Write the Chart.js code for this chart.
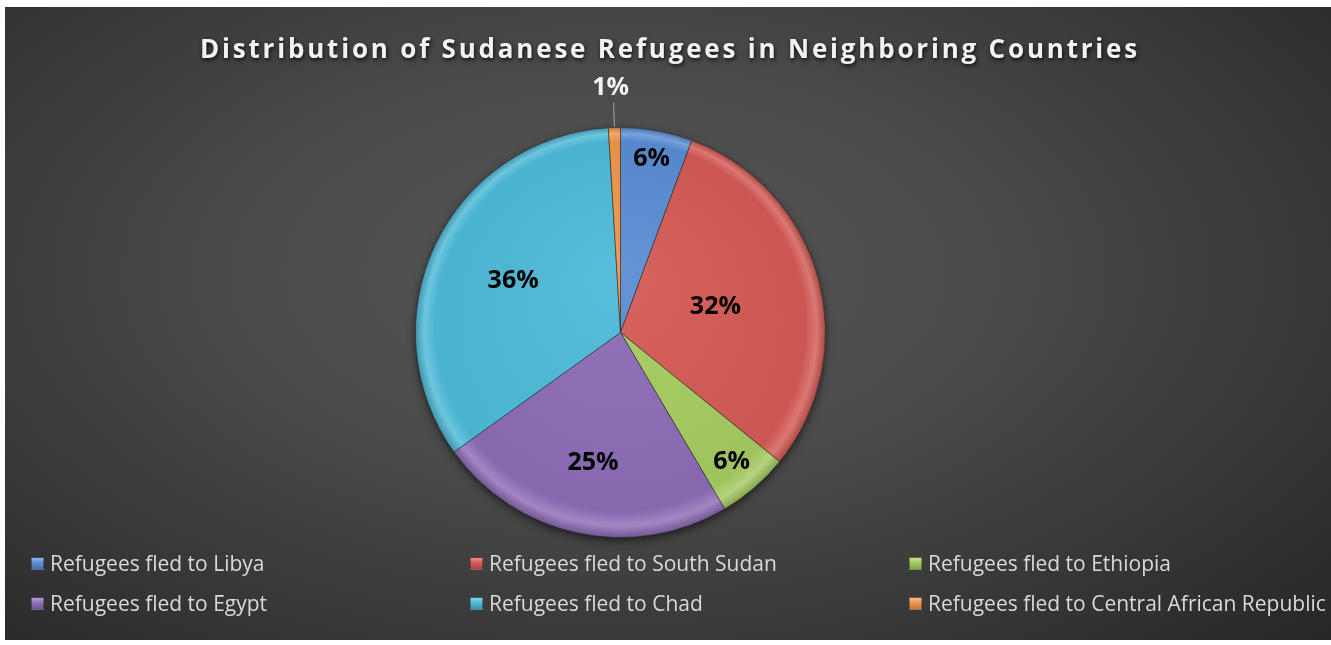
<!DOCTYPE html>
<html>
<head>
<meta charset="utf-8">
<script src="https://cdn.jsdelivr.net/npm/chart.js@4/dist/chart.umd.min.js"></script>
<style>
  html, body { margin: 0; padding: 0; background: #fff; }
  body { width: 1331px; height: 645px; position: relative; overflow: hidden; }
  #box {
    position: absolute; left: 5px; top: 7px; width: 1326px; height: 633px;
    background: radial-gradient(ellipse 75% 85% at 46% 42%, #585858 0%, #494949 40%, #2f2f2f 85%, #262626 100%);
  }
  #wrap { position: absolute; left: 0; top: 0; width: 1326px; height: 633px; }
  .leg {
    position: absolute; font-family: "Open Sans", sans-serif; font-size: 21px;
    color: #d9d9d9; white-space: nowrap; line-height: 24px; display: flex; align-items: center;
  }
  .leg i {
    display: inline-block; width: 13px; height: 13px; margin-right: 6px;
    border: 1px solid rgba(0,0,0,0.35); box-sizing: border-box;
  }
</style>
</head>
<body>
<div id="box">
  <div id="wrap"><canvas id="chart"></canvas></div>
  <div id="legend"></div>
</div>
<script>
// ── Data ─────────────────────────────────────────────────────────
const chartTitle = 'Distribution of Sudanese Refugees in Neighboring Countries';
const categories = [
  'Refugees fled to Libya',
  'Refugees fled to South Sudan',
  'Refugees fled to Ethiopia',
  'Refugees fled to Egypt',
  'Refugees fled to Chad',
  'Refugees fled to Central African Republic',
];
const shares = [6, 32, 6, 25, 36, 1];
const sliceColors = ['#5a8dd3', '#d35a55', '#a6cb60', '#8d6cb6', '#4dbad7', '#f0964b'];

// label distance from centre as a fraction of the radius (0 = outside with leader line)
const labelRadius = [0.86, 0.48, 0.83, 0.65, 0.58, 0];

// ── Colour helpers ───────────────────────────────────────────────
function shade(hex, amt) {
  const n = parseInt(hex.slice(1), 16);
  let r = (n >> 16) & 255, g = (n >> 8) & 255, b = n & 255;
  const f = (c) => Math.max(0, Math.min(255, Math.round(amt >= 0 ? c + (255 - c) * amt : c * (1 + amt))));
  return `rgb(${f(r)},${f(g)},${f(b)})`;
}

function sliceFill(ctx) {
  const chart = ctx.chart;
  const area = chart.chartArea;
  const base = sliceColors[ctx.dataIndex];
  if (!area) return base;
  const cx = (area.left + area.right) / 2;
  const cy = (area.top + area.bottom) / 2;
  const r = Math.min(area.right - area.left, area.bottom - area.top) / 2;
  const g = chart.ctx.createRadialGradient(cx, cy - r * 0.3, 0, cx, cy, r);
  g.addColorStop(0, shade(base, 0.06));
  g.addColorStop(0.9, shade(base, -0.04));
  g.addColorStop(0.955, shade(base, 0.18));
  g.addColorStop(1, shade(base, -0.2));
  return g;
}

// ── Plugins ──────────────────────────────────────────────────────
const titlePlugin = {
  id: 'boxTitle',
  afterDraw(chart) {
    const ctx = chart.ctx;
    ctx.save();
    ctx.font = 'bold 26px "Open Sans", sans-serif';
    ctx.letterSpacing = '2.8px';
    ctx.textAlign = 'center';
    ctx.textBaseline = 'alphabetic';
    ctx.shadowColor = 'rgba(0,0,0,0.8)';
    ctx.shadowBlur = 4;
    ctx.shadowOffsetX = 1;
    ctx.shadowOffsetY = 2;
    ctx.fillStyle = '#f2f2f2';
    ctx.fillText(chartTitle, chart.width / 2 + 2, 51);
    ctx.restore();
  },
};

const shadowPlugin = {
  id: 'pieShadow',
  beforeDatasetsDraw(chart) {
    const arc = chart.getDatasetMeta(0).data[0];
    if (!arc) return;
    const { x, y, outerRadius } = arc.getProps(['x', 'y', 'outerRadius'], true);
    const ctx = chart.ctx;
    ctx.save();
    ctx.shadowColor = 'rgba(0,0,0,0.7)';
    ctx.shadowBlur = 10;
    ctx.shadowOffsetY = 3;
    ctx.fillStyle = '#333';
    ctx.beginPath();
    ctx.arc(x, y, outerRadius - 1, 0, Math.PI * 2);
    ctx.fill();
    ctx.restore();
  },
};

const labelPlugin = {
  id: 'sliceLabels',
  afterDatasetsDraw(chart) {
    const ctx = chart.ctx;
    const meta = chart.getDatasetMeta(0);
    ctx.save();
    ctx.font = 'bold 25px "Open Sans", sans-serif';
    ctx.textAlign = 'center';
    ctx.textBaseline = 'middle';
    meta.data.forEach((arc, i) => {
      const p = arc.getProps(['x', 'y', 'startAngle', 'endAngle', 'outerRadius'], true);
      const mid = (p.startAngle + p.endAngle) / 2;
      const text = shares[i] + '%';
      const frac = labelRadius[i];
      if (frac > 0) {
        const d = p.outerRadius * frac;
        ctx.fillStyle = '#000';
        ctx.fillText(text, p.x + Math.cos(mid) * d, p.y + Math.sin(mid) * d);
      } else {
        // outside label with a leader line
        const x0 = p.x + Math.cos(mid) * (p.outerRadius + 1);
        const y0 = p.y + Math.sin(mid) * (p.outerRadius + 1);
        const x1 = p.x + Math.cos(mid) * (p.outerRadius + 25);
        const y1 = p.y + Math.sin(mid) * (p.outerRadius + 25);
        ctx.strokeStyle = '#a6a6a6';
        ctx.lineWidth = 1;
        ctx.beginPath();
        ctx.moveTo(x0, y0);
        ctx.lineTo(x1, y1);
        ctx.stroke();
        ctx.fillStyle = '#f2f2f2';
        ctx.fillText(text, x1 - 3, y1 - 15);
      }
    });
    ctx.restore();
  },
};

// ── Chart ────────────────────────────────────────────────────────
new Chart(document.getElementById('chart'), {
  type: 'pie',
  plugins: [shadowPlugin, labelPlugin, titlePlugin],
  data: {
    labels: categories,
    datasets: [{
      data: shares,
      backgroundColor: sliceFill,
      borderColor: 'rgba(40,40,40,0.55)',
      borderWidth: 1,
    }],
  },
  options: {
    responsive: true,
    maintainAspectRatio: false,
    animation: false,
    layout: { padding: { left: 410, right: 505, top: 120, bottom: 102 } },
    plugins: {
      legend: { display: false },
      tooltip: { enabled: false },
      title: { display: false },
    },
  },
});

// ── HTML legend (3 columns x 2 rows) ─────────────────────────────
const legendCols = [26, 465, 904];
const legendRows = [544, 584];
const legendEl = document.getElementById('legend');
categories.forEach((name, i) => {
  const item = document.createElement('div');
  item.className = 'leg';
  item.style.left = legendCols[i % 3] + 'px';
  item.style.top = legendRows[Math.floor(i / 3)] + 'px';
  const sw = document.createElement('i');
  const c = sliceColors[i];
  sw.style.background = `linear-gradient(180deg, ${shade(c, 0.35)} 0%, ${c} 45%, ${shade(c, -0.2)} 100%)`;
  item.appendChild(sw);
  item.appendChild(document.createTextNode(name));
  legendEl.appendChild(item);
});
</script>
</body>
</html>
